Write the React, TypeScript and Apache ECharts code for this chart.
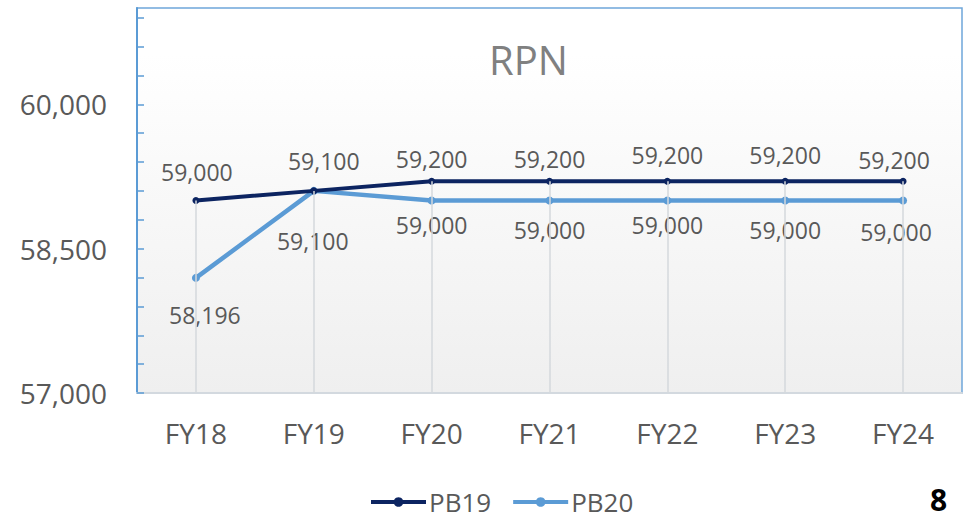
import React, { useEffect, useRef } from "react";
import * as echarts from "echarts";

const categories = ["FY18", "FY19", "FY20", "FY21", "FY22", "FY23", "FY24"];
const pb19 = [59000, 59100, 59200, 59200, 59200, 59200, 59200];
const pb20 = [58196, 59100, 59000, 59000, 59000, 59000, 59000];
const yMin = 57000;
const yMax = 61000;
const yLabelStep = 1500;
const yTickStep = 300;

// label nudges (layout only): [dx, dy] in pixels
const pb19LabelNudge = [[1, -3], [10, -4], [0, 4], [0, 4], [0, 0], [0, 0], [-9, 5]];
const pb20LabelNudge = [[9, 6], [-1, 19], [0, -7], [0, -2], [0, -7], [0, -2], [-7, 0]];

const FONT = "'Open Sans', 'Noto Sans', sans-serif";
const TEXT = "#595959";

export default function App() {
  const ref = useRef<HTMLDivElement>(null);
  useEffect(() => {
    if (!ref.current) return;
    const chart = echarts.init(ref.current, undefined, { renderer: "svg" });
    const fmt = (v: number) => v.toLocaleString("en-US");
    const dropLines = categories.map((c, i) => [
      { coord: [c, Math.max(pb19[i], pb20[i])] },
      { coord: [c, yMin] },
    ]);
    const labelBase = { show: true, fontFamily: FONT, fontSize: 23, color: TEXT };
    chart.setOption({
      animation: false,
      textStyle: { fontFamily: FONT },
      title: {
        text: "RPN",
        left: 484,
        top: 34,
        textStyle: { fontFamily: FONT, fontSize: 40, fontWeight: "normal", color: "#808080" },
      },
      legend: {
        data: [
          { name: "PB19", lineStyle: { width: 4 } },
          { name: "PB20", lineStyle: { width: 4 } },
        ],
        left: 364,
        top: 484,
        itemWidth: 55,
        itemHeight: 12,
        itemGap: 20,
        textStyle: { fontFamily: FONT, fontSize: 26, color: TEXT, padding: [0, 0, 0, -2] },
      },
      grid: {
        left: 137,
        right: 1,
        top: 8,
        bottom: 126,
        show: true,
        borderColor: "#6fa7da",
        borderWidth: 1.5,
        backgroundColor: new echarts.graphic.LinearGradient(0, 0, 0, 1, [
          { offset: 0, color: "#ffffff" },
          { offset: 0.12, color: "#ffffff" },
          { offset: 1, color: "#efefef" },
        ]),
      },
      xAxis: {
        type: "category",
        data: categories,
        boundaryGap: true,
        axisLine: { lineStyle: { color: "#d3d9df", width: 2 } },
        axisTick: { show: false },
        splitLine: { show: false },
        axisLabel: { fontFamily: FONT, fontSize: 28, color: TEXT, margin: 26 },
      },
      yAxis: {
        type: "value",
        min: yMin,
        max: yMax,
        interval: yTickStep,
        axisLine: { show: true, lineStyle: { color: "#5b9bd5", width: 2 } },
        axisTick: { show: true, inside: true, length: 7, lineStyle: { color: "#5b9bd5", width: 1.5 } },
        splitLine: { show: false },
        axisLabel: {
          fontFamily: FONT,
          fontSize: 28,
          color: TEXT,
          margin: 30,
          showMaxLabel: false,
          formatter: (v: number) => ((v - yMin) % yLabelStep === 0 && v < yMax ? fmt(v) : ""),
        },
      },
      series: [
        {
          name: "drops",
          type: "line",
          data: [],
          z: 1,
          silent: true,
          markLine: {
            silent: true,
            symbol: "none",
            label: { show: false },
            lineStyle: { color: "#d5d8dc", width: 1.5, type: "solid" },
            data: dropLines,
          },
        },
        {
          name: "PB19",
          type: "line",
          data: pb19.map((v, i) => ({
            value: v,
            label: { offset: pb19LabelNudge[i] },
          })),
          z: 3,
          symbol: "circle",
          symbolSize: 7,
          itemStyle: { color: "#0c2461" },
          lineStyle: { color: "#0c2461", width: 4 },
          label: {
            ...labelBase,
            position: "top",
            distance: 11,
            formatter: (p: any) => fmt(p.value),
          },
        },
        {
          name: "PB20",
          type: "line",
          data: pb20.map((v, i) => ({
            value: v,
            label: { offset: pb20LabelNudge[i] },
          })),
          z: 2,
          symbol: "circle",
          symbolSize: 8,
          itemStyle: { color: "#5b9bd5" },
          lineStyle: { color: "#5b9bd5", width: 4.5 },
          label: {
            ...labelBase,
            position: "bottom",
            distance: 16,
            formatter: (p: any) => fmt(p.value),
          },
        },
      ],
      graphic: [
        {
          type: "text",
          left: 930,
          top: 484,
          style: { text: "8", fontFamily: FONT, fontSize: 30, fontWeight: "bold", fill: "#000000" },
        },
      ],
    });
    return () => chart.dispose();
  }, []);
  return (
    <div
      ref={ref}
      style={{ position: "fixed", left: 0, top: 0, width: 963, height: 519, background: "#ffffff" }}
    />
  );
}
